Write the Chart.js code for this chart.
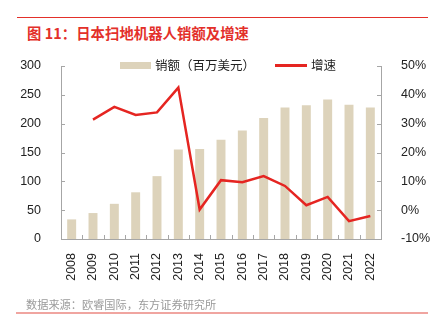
<!DOCTYPE html>
<html>
<head>
<meta charset="utf-8">
<script src="https://cdn.jsdelivr.net/npm/chart.js@4"></script>
<style>
    body { margin: 0; background: #fff; }
    #wrap { position: relative; width: 430px; height: 336px; overflow: hidden; font-family: "Noto Sans CJK SC", sans-serif; }
    #chart { position: absolute; left: 0; top: 0; }
    .rule { position: absolute; left: 17px; width: 411px; }
    #title { position: absolute; left: 27px; top: 22px; font-size: 14.3px; font-weight: bold; color: #e3302a; white-space: nowrap; letter-spacing: 0.1px; }
    #source { position: absolute; left: 26px; top: 296px; font-size: 11.2px; color: #9a9a9a; white-space: nowrap; }
    .legend { position: absolute; top: 57px; font-size: 12.5px; color: #222; white-space: nowrap; line-height: 16px; }
    .sw { display: inline-block; vertical-align: middle; margin-right: 4px; }
</style>
</head>
<body>
<div id="wrap">
    <div class="rule" style="top:17px;height:1px;background:#e3302a;"></div>
    <div id="title">图 11：日本扫地机器人销额及增速</div>
    <canvas id="chart" width="430" height="336"></canvas>
    <div class="legend" style="left:120px;"><span class="sw" style="width:31px;height:7px;background:#ddd3bb;margin-top:-2px;"></span>销额（百万美元）</div>
    <div class="legend" style="left:275px;"><span class="sw" style="width:32px;height:3px;background:#e52521;margin-top:-2px;"></span>增速</div>
    <div id="source">数据来源：欧睿国际，东方证券研究所</div>
    <div class="rule" style="top:312px;height:1.5px;background:#f0a5a0;left:16px;width:412px;"></div>
</div>
<script>
const years = ['2008', '2009', '2010', '2011', '2012', '2013', '2014', '2015',
               '2016', '2017', '2018', '2019', '2020', '2021', '2022'];
const sales = [34, 45, 61, 81, 109, 155, 156, 172, 188, 210, 228, 232, 242, 233, 228];
const growth = [null, 31.4, 35.8, 33.0, 33.9, 42.5, 0.2, 10.4, 9.7, 11.8, 8.4, 1.7, 4.6, -3.8, -2.0];
const leftTicks = [0, 50, 100, 150, 200, 250, 300];
const rightTicks = [-10, 0, 10, 20, 30, 40, 50];

const tickFont = { family: '"Liberation Sans", Arial, sans-serif', size: 12.5 };
const axisColor = '#a6a6a6';

// small tick marks pointing into the plot, like the original
const innerTicks = {
    id: 'innerTicks',
    afterDraw(chart) {
        const ctx = chart.ctx;
        const x = chart.scales.x, y = chart.scales.y, y1 = chart.scales.y1;
        ctx.save();
        ctx.strokeStyle = axisColor;
        ctx.lineWidth = 1;
        ctx.beginPath();
        y.ticks.forEach(t => {
            const py = Math.round(y.getPixelForValue(t.value)) + 0.5;
            ctx.moveTo(y.right, py); ctx.lineTo(y.right + 4, py);
        });
        y1.ticks.forEach(t => {
            const py = Math.round(y1.getPixelForValue(t.value)) + 0.5;
            ctx.moveTo(y1.left - 4, py); ctx.lineTo(y1.left, py);
        });
        const step = x.width / years.length;
        for (let i = 1; i < years.length; i++) {
            const px = Math.round(x.left + i * step) + 0.5;
            ctx.moveTo(px, x.top); ctx.lineTo(px, x.top - 4);
        }
        ctx.stroke();
        ctx.restore();
    }
};

new Chart(document.getElementById('chart').getContext('2d'), {
    type: 'bar',
    data: {
        labels: years,
        datasets: [{
            label: '销额（百万美元）',
            data: sales,
            backgroundColor: '#ddd3bb',
            categoryPercentage: 1,
            barPercentage: 0.42,
            yAxisID: 'y',
            order: 2
        }, {
            type: 'line',
            label: '增速',
            data: growth,
            borderColor: '#e52521',
            borderWidth: 2.5,
            pointRadius: 0,
            tension: 0,
            yAxisID: 'y1',
            order: 1
        }]
    },
    options: {
        responsive: false,
        devicePixelRatio: 1,
        animation: false,
        layout: { padding: { top: 66, left: 0, right: 0, bottom: 52 } },
        plugins: { legend: { display: false }, tooltip: { enabled: false } },
        scales: {
            x: {
                grid: { display: false },
                border: { color: axisColor },
                ticks: { color: '#222', font: tickFont, minRotation: 90, maxRotation: 90, padding: 6, autoSkip: false },
                afterFit(s) { s.height = 45; }
            },
            y: {
                position: 'left',
                min: 0, max: 300,
                afterBuildTicks(s) { s.ticks = leftTicks.map(v => ({ value: v })); },
                grid: { display: false },
                border: { color: axisColor },
                ticks: { color: '#222', font: tickFont, padding: 12 },
                afterFit(s) { s.width = 61; }
            },
            y1: {
                position: 'right',
                min: -10, max: 50,
                afterBuildTicks(s) { s.ticks = rightTicks.map(v => ({ value: v })); },
                grid: { display: false },
                border: { color: axisColor },
                ticks: { color: '#222', font: tickFont, padding: 12, callback: v => v + '%' },
                afterFit(s) { s.width = 49; }
            }
        }
    },
    plugins: [innerTicks]
});
</script>
</body>
</html>
